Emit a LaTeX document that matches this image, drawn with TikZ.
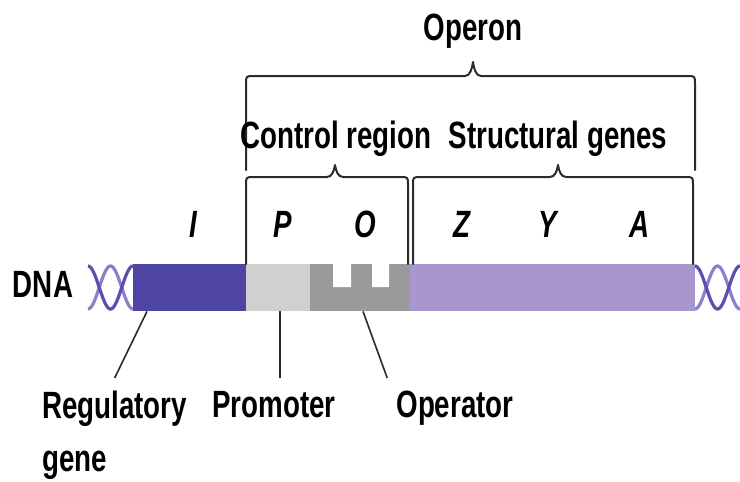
\documentclass[tikz,border=0pt]{standalone}
\usepackage{fontspec}
\setmainfont{Liberation Sans}[FakeStretch=0.73]
\usepackage{tikz}
\definecolor{Ink}{HTML}{2B2B2B}
\definecolor{RegBlue}{HTML}{4E44A2}
\definecolor{PromGray}{HTML}{D0D0D0}
\definecolor{OpGray}{HTML}{9A9A9A}
\definecolor{GenePurple}{HTML}{A896CC}
\definecolor{HelixDark}{HTML}{5A4EAE}
\definecolor{HelixLight}{HTML}{8C80CE}
\tikzset{seg/.style={draw=none,inner sep=0pt,minimum height=47,anchor=north west},brace/.style={draw=Ink,line width=2pt,line cap=round,line join=round},callout/.style={draw=Ink,line width=1.6pt},txt/.style={inner sep=0pt,anchor=base,font=\fontsize{38}{53}\selectfont\bfseries},lbl/.style={txt,inner ysep=13pt},gene/.style={txt,font=\fontsize{38}{53}\selectfont\bfseries\itshape},strand/.style={line width=3.2pt}}

\begin{document}
\begin{tikzpicture}[x=1pt,y=-1pt]
  \useasboundingbox[fill=white] (0,0) rectangle (740,482);
  % the DNA strip
  \node[seg,fill=RegBlue,minimum width=113](reg) at (133,264){};
  \node[seg,fill=PromGray,minimum width=64](prom) at (246,264){};
  \node[seg,fill=OpGray,minimum width=100](op) at (310,264){};
  \node[seg,fill=GenePurple,minimum width=285](zya) at (410,264){};
  \fill[white] (333,264) rectangle (351,287) (372,264) rectangle (389,287);
  % helix ends
  \foreach \a/\b in {88/133,695/740}{
    \draw[strand,HelixLight] plot[domain=\a:\b,samples=40] (\x,{287.5+21.5*cos(360*(\x-\a)/45)});
    \draw[strand,HelixDark] plot[domain=\a:\b,samples=40] (\x,{287.5-21.5*cos(360*(\x-\a)/45)});
  }
  \node[txt](dna) at (43,297){DNA};
  % gene letters
  \foreach \g/\gx in {I/193,P/283,O/365,Z/462,Y/548,A/640}
    \node[gene](g\g) at (\gx,237){\g};
  % braces
  \draw[brace] (246,264) -- (246,185) .. controls (246,177) .. (254,177) -- (327,177) .. controls (332,177) and (334,171) .. (335,165) .. controls (336,171) and (338,177) .. (343,177) -- (400,177) .. controls (408,177) .. (408,185) -- (408,264);
  \draw[brace] (413,264) -- (413,185) .. controls (413,177) .. (421,177) -- (550,177) .. controls (555,177) and (557,171) .. (558,165) .. controls (559,171) and (561,177) .. (566,177) -- (685,177) .. controls (693,177) .. (693,185) -- (693,264);
  \draw[brace] (246,170) -- (246,84) .. controls (246,76) .. (254,76) -- (465,76) .. controls (470,76) and (472,69) .. (473,62) .. controls (474,69) and (476,76) .. (481,76) -- (687,76) .. controls (695,76) .. (695,84) -- (695,170);
  \node[txt](operon) at (473,40){Operon};
  \node[txt](ctrl) at (336,148){Control region};
  \node[txt](struct) at (558,148){Structural genes};
  % labels under the strip
  \node[lbl,anchor=north west,align=left](regl) at (42,378){Regulatory\\gene};
  \node[lbl,anchor=north](proml) at (274,378){Promoter};
  \node[lbl,anchor=north](opl) at (455,378){Operator};
  \draw[callout] ([xshift=14]reg.south west) -- (regl.north);
  \draw[callout] ([xshift=34]prom.south west) -- ([xshift=34]prom.south west |- proml.north);
  \draw[callout] ([xshift=53]op.south west) -- ([xshift=-9]opl.north west);
\end{tikzpicture}
\end{document}
